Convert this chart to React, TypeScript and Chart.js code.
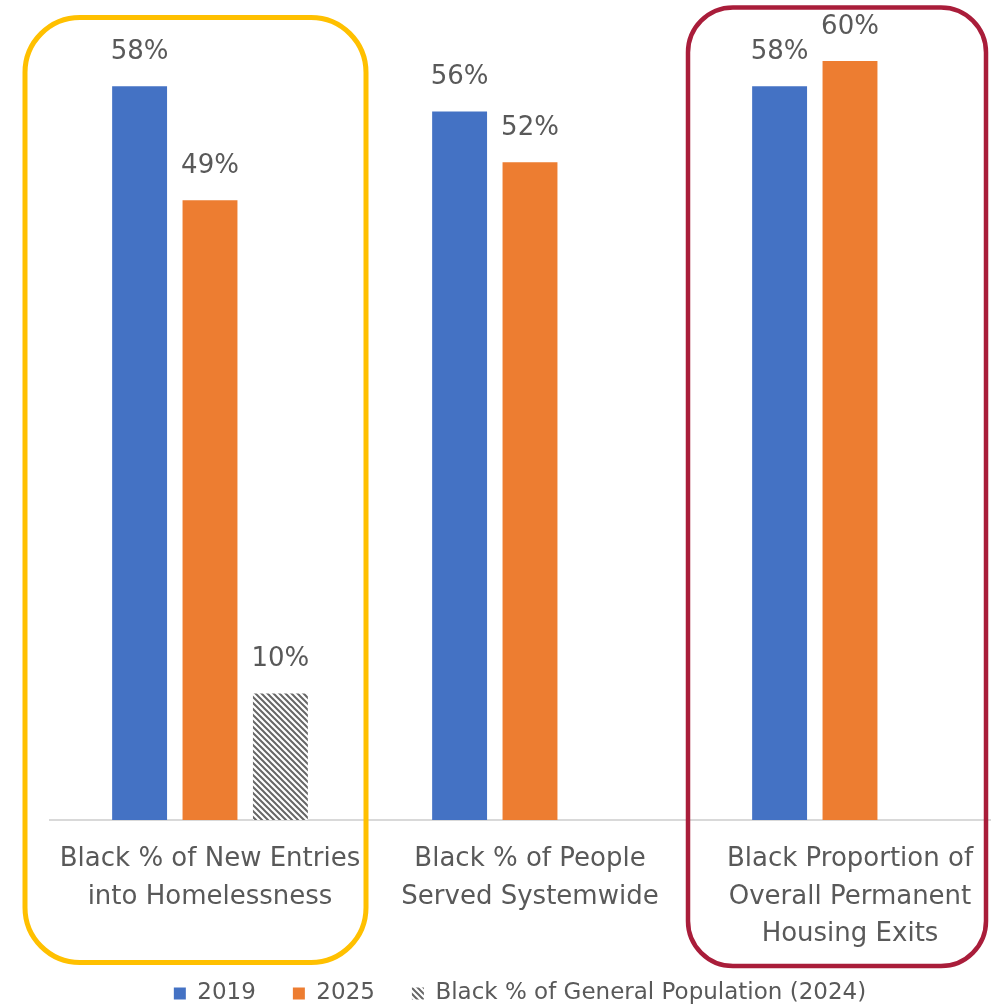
import React, { useEffect, useRef } from 'react';
import { Chart, registerables } from 'chart.js';

Chart.register(...registerables);

// Category labels (multi-line) and the series values, in percent
const categories: string[][] = [
  ['Black % of New Entries', 'into Homelessness'],
  ['Black % of People', 'Served Systemwide'],
  ['Black Proportion of', 'Overall Permanent', 'Housing Exits'],
];
const values2019: (number | null)[] = [58, 56, 58];
const values2025: (number | null)[] = [49, 52, 60];
const valuesGeneralPopulation: (number | null)[] = [10, null, null];
const seriesNames: string[] = ['2019', '2025', 'Black % of General Population (2024)'];

const FONT = '"DejaVu Sans", "Liberation Sans", sans-serif';
const TEXT_COLOR = '#595959';
const CANVAS_W = 1010;
const CANVAS_H = 1030;
const X_AXIS_HEIGHT = 140;
const LEGEND_LIFT = 15;

function makeHatch(): CanvasPattern | string {
  const tile = document.createElement('canvas');
  const s = 6;
  tile.width = s;
  tile.height = s;
  const c = tile.getContext('2d');
  if (!c) return '#888';
  c.fillStyle = '#ffffff';
  c.fillRect(0, 0, s, s);
  c.strokeStyle = '#666666';
  c.lineWidth = 2;
  c.beginPath();
  c.moveTo(-1, -1);
  c.lineTo(s + 1, s + 1);
  c.moveTo(-1, s - 1);
  c.lineTo(1, s + 1);
  c.moveTo(s - 1, -1);
  c.lineTo(s + 1, 1);
  c.stroke();
  const p = c.createPattern(tile, 'repeat');
  return p || '#888';
}

// Percentage labels floating above each bar
const valueLabels = {
  id: 'valueLabels',
  afterDatasetsDraw(chart: any) {
    const ctx = chart.ctx;
    ctx.save();
    ctx.font = `26px ${FONT}`;
    ctx.fillStyle = TEXT_COLOR;
    ctx.textAlign = 'center';
    ctx.textBaseline = 'middle';
    chart.data.datasets.forEach((ds: any, i: number) => {
      const meta = chart.getDatasetMeta(i);
      meta.data.forEach((bar: any, j: number) => {
        const v = ds.data[j];
        if (v == null) return;
        ctx.fillText(`${v}%`, bar.x, bar.y - 34);
      });
    });
    ctx.restore();
  },
};

// Pulls the legend up into the spare space under the category labels
const legendLift = {
  id: 'legendLift',
  afterLayout(chart: any) {
    const lg = chart.legend;
    if (!lg) return;
    lg.top -= LEGEND_LIFT;
    lg.bottom -= LEGEND_LIFT;
  },
};

function roundedRect(ctx: CanvasRenderingContext2D, l: number, t: number, r: number, b: number, rad: number) {
  ctx.beginPath();
  ctx.moveTo(l + rad, t);
  ctx.lineTo(r - rad, t);
  ctx.arcTo(r, t, r, t + rad, rad);
  ctx.lineTo(r, b - rad);
  ctx.arcTo(r, b, r - rad, b, rad);
  ctx.lineTo(l + rad, b);
  ctx.arcTo(l, b, l, b - rad, rad);
  ctx.lineTo(l, t + rad);
  ctx.arcTo(l, t, l + rad, t, rad);
  ctx.closePath();
}

// Rounded outlines that call out the first and last category groups
const highlightFrames = {
  id: 'highlightFrames',
  afterDraw(chart: any) {
    const { ctx } = chart;
    const x = chart.scales.x;
    const catW = (x.right - x.left) / categories.length;
    const frames = [
      { l: x.left - 25, r: x.left + catW - 4, t: 17.5, b: 962.5, rad: 55, color: '#FFC000', w: 5 },
      { l: x.left + 2 * catW - 2, r: x.left + 2 * catW + 296, t: 7.5, b: 966, rad: 45, color: '#A91D3A', w: 4.5 },
    ];
    ctx.save();
    frames.forEach((f) => {
      ctx.strokeStyle = f.color;
      ctx.lineWidth = f.w;
      roundedRect(ctx, f.l, f.t, f.r, f.b, f.rad);
      ctx.stroke();
    });
    ctx.restore();
  },
};

export default function App() {
  const canvasRef = useRef<HTMLCanvasElement | null>(null);

  useEffect(() => {
    const canvas = canvasRef.current;
    if (!canvas) return;
    const hatch = makeHatch();
    const chart = new Chart(canvas, {
      type: 'bar',
      data: {
        labels: categories,
        datasets: [
          { label: seriesNames[0], data: values2019, backgroundColor: '#4472C4', borderWidth: 0 },
          { label: seriesNames[1], data: values2025, backgroundColor: '#ED7D31', borderWidth: 0 },
          { label: seriesNames[2], data: valuesGeneralPopulation, backgroundColor: hatch as any, borderWidth: 0 },
        ],
      },
      options: {
        responsive: false,
        animation: false,
        devicePixelRatio: 1,
        layout: { padding: { left: 30, right: 0, top: 61, bottom: 0 } },
        datasets: { bar: { categoryPercentage: 0.66, barPercentage: 0.78 } } as any,
        scales: {
          x: {
            grid: { display: false, drawTicks: false },
            border: { display: true, color: '#D9D9D9', width: 2 },
            ticks: {
              color: TEXT_COLOR,
              font: { family: FONT, size: 26, lineHeight: 1.43 },
              padding: 21,
              maxRotation: 0,
              autoSkip: false,
            },
            afterFit: (s: any) => {
              s.height = X_AXIS_HEIGHT;
            },
          },
          y: {
            min: 0,
            max: 60,
            grid: { display: false },
            border: { display: false },
            ticks: { display: false },
            afterFit: (s: any) => {
              s.width = 20;
            },
          },
        },
        plugins: {
          legend: {
            position: 'bottom',
            labels: {
              boxWidth: 12,
              boxHeight: 12,
              padding: 37,
              color: TEXT_COLOR,
              font: { family: FONT, size: 23 },
            },
          },
          tooltip: { enabled: false },
        },
      },
      plugins: [legendLift, valueLabels, highlightFrames],
    });
    return () => chart.destroy();
  }, []);

  return (
    <div
      style={{
        position: 'fixed',
        left: 0,
        top: 0,
        width: 991,
        height: 1006,
        overflow: 'hidden',
        background: '#ffffff',
      }}
    >
      <canvas ref={canvasRef} width={CANVAS_W} height={CANVAS_H} style={{ display: 'block' }} />
    </div>
  );
}
